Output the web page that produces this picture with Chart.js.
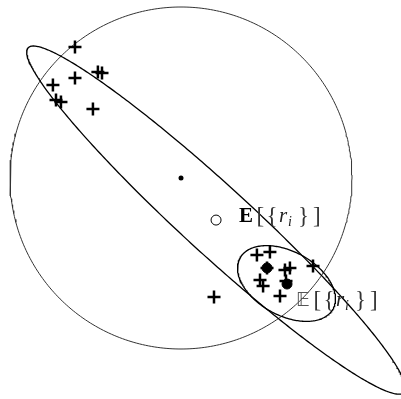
<!DOCTYPE html>
<html>
<head>
<meta charset="utf-8">
<script src="https://cdn.jsdelivr.net/npm/chart.js@4/dist/chart.umd.min.js"></script>
<style>
  html, body { margin: 0; padding: 0; background: #fff; }
  #wrap { width: 401px; height: 399px; }
</style>
</head>
<body>
<div id="wrap"><canvas id="c" width="401" height="399"></canvas></div>
<script>
// Unit circle (reference sphere) and its centre
const circleCenter = [0, 0];
const circleRadius = 1;

// Covariance ellipses: wide one around E[{r_i}], small one around 𝔼[{r_i}]
const ellipseCx = [0.205, 0.617];
const ellipseCy = [-0.246, -0.617];
const ellipseA = [1.491, 0.310];
const ellipseB = [0.199, 0.187];
const ellipseAngleDeg = [-42.5, -28.7];

// Samples r_i
const sampleX = [-0.620, -0.486, -0.462, -0.620, -0.749, -0.731, -0.702, -0.515,
                 0.193, 0.444, 0.520, 0.503, 0.608, 0.637, 0.462, 0.480, 0.579, 0.772, 0.614];
const sampleY = [0.766, 0.620, 0.614, 0.585, 0.544, 0.456, 0.444, 0.404,
                 -0.696, -0.450, -0.433, -0.526, -0.538, -0.526, -0.596, -0.632, -0.690, -0.515, -0.602];

// Means: open marker E[{r_i}], filled markers 𝔼[{r_i}]
const meanOpen = [0.205, -0.246];
const meanFilledX = [0.620, 0.503];
const meanFilledY = [-0.620, -0.526];

// Annotations: baseline anchor positions and leading symbol
const labelX = [0.339, 0.673];
const labelY = [-0.257, -0.749];
const labelHead = ['E', '\u{1D53C}'];

function ellipsePoints(i, n) {
  const pts = [];
  const phi = ellipseAngleDeg[i] * Math.PI / 180;
  for (let k = 0; k <= n; k++) {
    const t = 2 * Math.PI * k / n;
    const ex = ellipseA[i] * Math.cos(t), ey = ellipseB[i] * Math.sin(t);
    pts.push({
      x: ellipseCx[i] + ex * Math.cos(phi) - ey * Math.sin(phi),
      y: ellipseCy[i] + ex * Math.sin(phi) + ey * Math.cos(phi)
    });
  }
  return pts;
}
function circlePoints(n) {
  const pts = [];
  for (let k = 0; k <= n; k++) {
    const t = 2 * Math.PI * k / n;
    pts.push({ x: circleCenter[0] + circleRadius * Math.cos(t), y: circleCenter[1] + circleRadius * Math.sin(t) });
  }
  return pts;
}

// Typesets "X[ {r_i} ]" piece by piece, anchored on the baseline
const labelPlugin = {
  id: 'meanLabels',
  afterDatasetsDraw(chart) {
    const ctx = chart.ctx, xs = chart.scales.x, ys = chart.scales.y;
    ctx.save();
    ctx.textBaseline = 'alphabetic';
    ctx.textAlign = 'left';
    const serif = '"Liberation Serif", "DejaVu Serif", serif';
    for (let i = 0; i < labelX.length; i++) {
      const px = xs.getPixelForValue(labelX[i]);
      const py = ys.getPixelForValue(labelY[i]);
      const parts = [
        { t: labelHead[i], f: (i === 0 ? 'bold 21px ' + serif : '19px "DejaVu Sans", "DejaVu Serif", sans-serif'), dx: 0, dy: 0, c: i === 0 ? '#000' : '#555' },
        { t: '[', f: '23px ' + serif, dx: 17.5, dy: 1, c: '#333' },
        { t: '{', f: '23px ' + serif, dx: 27.5, dy: 1, c: '#333' },
        { t: 'r', f: 'italic 21px ' + serif, dx: 40, dy: 0, c: '#222' },
        { t: 'i', f: 'italic 14px ' + serif, dx: 49, dy: 4, c: '#222' },
        { t: '}', f: '23px ' + serif, dx: 59, dy: 1, c: '#333' },
        { t: ']', f: '23px ' + serif, dx: 74, dy: 1, c: '#333' }
      ];
      for (const p of parts) {
        ctx.font = p.f;
        ctx.fillStyle = p.c;
        ctx.fillText(p.t, px + p.dx, py + p.dy);
      }
    }
    ctx.restore();
  }
};

const lineStyle = { showLine: true, pointRadius: 0, tension: 0, fill: false };

new Chart(document.getElementById('c'), {
  type: 'scatter',
  data: {
    datasets: [
      { data: sampleX.map((x, i) => ({ x, y: sampleY[i] })), pointStyle: 'cross',
        pointRadius: 6.5, borderColor: '#000', borderWidth: 2.5 },
      { data: meanFilledX.map((x, i) => ({ x, y: meanFilledY[i] })), pointStyle: 'circle',
        pointRadius: 5, backgroundColor: '#000', borderColor: '#000', borderWidth: 1 },
      { data: [{ x: meanOpen[0], y: meanOpen[1] }], pointStyle: 'circle',
        pointRadius: 5, backgroundColor: '#fff', borderColor: '#000', borderWidth: 1 },
      { data: [{ x: circleCenter[0], y: circleCenter[1] }], pointStyle: 'circle',
        pointRadius: 2.5, backgroundColor: '#000', borderColor: '#000', borderWidth: 0 },
      Object.assign({ data: ellipsePoints(1, 240), borderColor: '#000', borderWidth: 1.3 }, lineStyle),
      Object.assign({ data: ellipsePoints(0, 480), borderColor: '#000', borderWidth: 1.3 }, lineStyle),
      Object.assign({ data: circlePoints(360), borderColor: '#333', borderWidth: 1 }, lineStyle)
    ]
  },
  options: {
    responsive: false,
    devicePixelRatio: 1,
    animation: false,
    layout: { padding: 0, autoPadding: false },
    plugins: { legend: { display: false }, tooltip: { enabled: false } },
    scales: {
      x: { type: 'linear', display: false, min: -181 / 171, max: 220 / 171 },
      y: { type: 'linear', display: false, min: -221 / 171, max: 178 / 171 }
    }
  },
  plugins: [labelPlugin]
});
</script>
</body>
</html>
